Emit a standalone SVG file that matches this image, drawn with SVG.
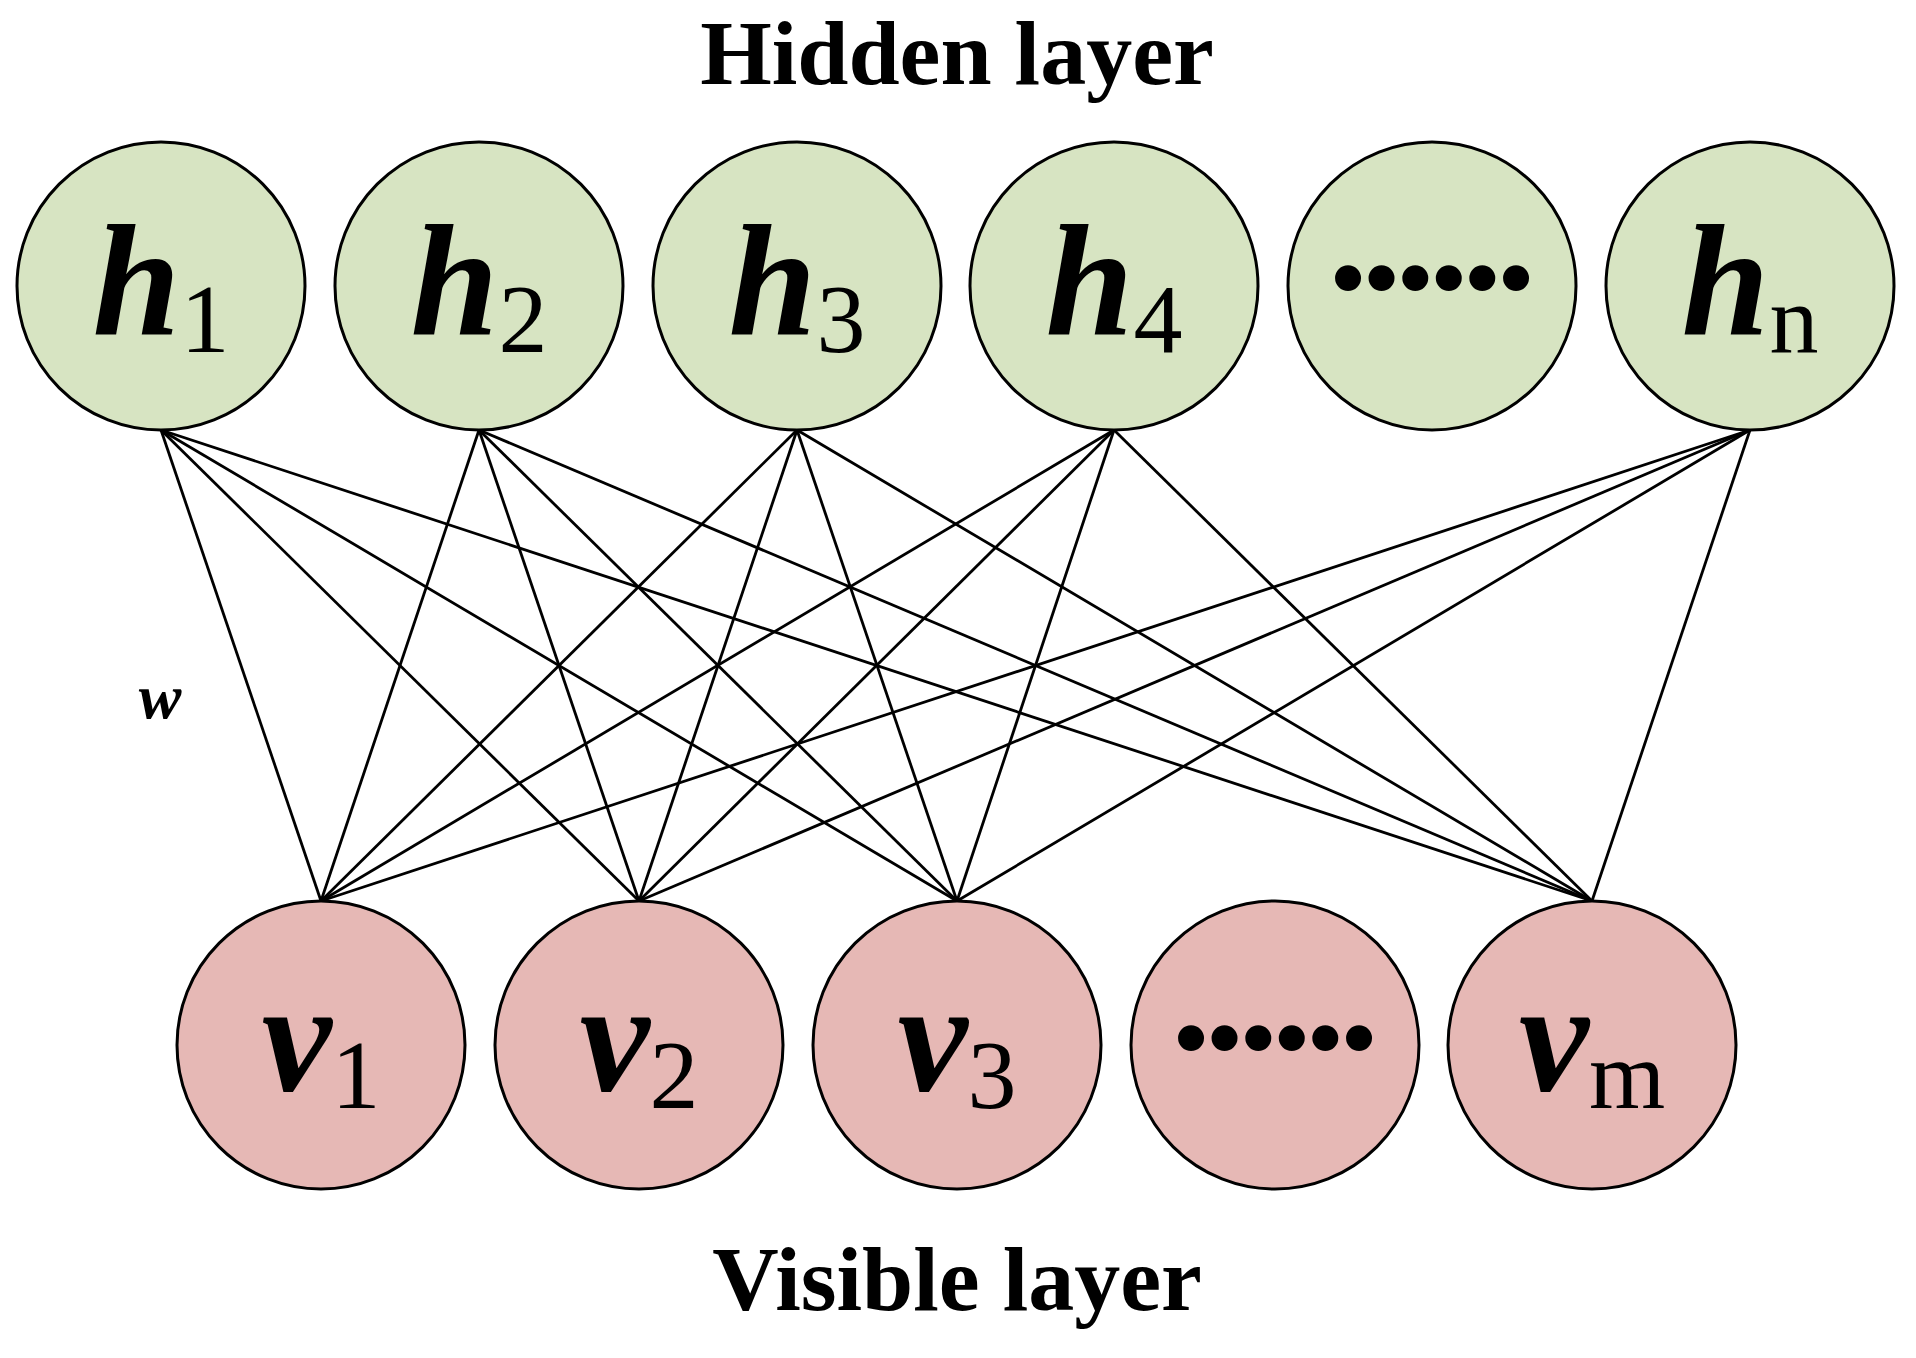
<svg xmlns="http://www.w3.org/2000/svg" width="1916" height="1358" viewBox="0 0 1916 1358">
<style>
.h{fill:#d7e4c2;stroke:#000;stroke-width:3}
.v{fill:#e6b8b5;stroke:#000;stroke-width:3}
.t{font-family:"Liberation Serif",serif;font-weight:bold;font-size:92px;text-anchor:middle}
.l{font-family:"Liberation Serif",serif;text-anchor:middle}
.m{font-style:italic;font-weight:bold;font-size:158px}
.s{font-size:98px}
#edges line{stroke:#000;stroke-width:2.8}
</style>
<rect width="1916" height="1358" fill="#fff"/>
<text class="t" x="957" y="84">Hidden layer</text>
<text class="t" x="957" y="1310">Visible layer</text>
<text x="160" y="718" font-family="Liberation Serif,serif" font-style="italic" font-weight="bold" font-size="64" text-anchor="middle">w</text>
<g id="edges">
<line x1="161" y1="430" x2="321" y2="901"/><line x1="161" y1="430" x2="639" y2="901"/><line x1="161" y1="430" x2="957" y2="901"/><line x1="161" y1="430" x2="1592" y2="901"/>
<line x1="479" y1="430" x2="321" y2="901"/><line x1="479" y1="430" x2="639" y2="901"/><line x1="479" y1="430" x2="957" y2="901"/><line x1="479" y1="430" x2="1592" y2="901"/>
<line x1="797" y1="430" x2="321" y2="901"/><line x1="797" y1="430" x2="639" y2="901"/><line x1="797" y1="430" x2="957" y2="901"/><line x1="797" y1="430" x2="1592" y2="901"/>
<line x1="1114" y1="430" x2="321" y2="901"/><line x1="1114" y1="430" x2="639" y2="901"/><line x1="1114" y1="430" x2="957" y2="901"/><line x1="1114" y1="430" x2="1592" y2="901"/>
<line x1="1750" y1="430" x2="321" y2="901"/><line x1="1750" y1="430" x2="639" y2="901"/><line x1="1750" y1="430" x2="957" y2="901"/><line x1="1750" y1="430" x2="1592" y2="901"/>
</g>
<g id="h1"><circle class="h" cx="161" cy="286" r="144"/><text class="l" x="161" y="334"><tspan class="m">h</tspan><tspan class="s" dy="18">1</tspan></text></g>
<g id="h2"><circle class="h" cx="479" cy="286" r="144"/><text class="l" x="479" y="334"><tspan class="m">h</tspan><tspan class="s" dy="18">2</tspan></text></g>
<g id="h3"><circle class="h" cx="797" cy="286" r="144"/><text class="l" x="797" y="334"><tspan class="m">h</tspan><tspan class="s" dy="18">3</tspan></text></g>
<g id="h4"><circle class="h" cx="1114" cy="286" r="144"/><text class="l" x="1114" y="334"><tspan class="m">h</tspan><tspan class="s" dy="18">4</tspan></text></g>
<g id="hdots"><circle class="h" cx="1432" cy="286" r="144"/><text class="l" x="1432" y="310" font-size="96" font-weight="bold">••••••</text></g>
<g id="hn"><circle class="h" cx="1750" cy="286" r="144"/><text class="l" x="1750" y="334"><tspan class="m">h</tspan><tspan class="s" dy="18">n</tspan></text></g>
<g id="v1"><circle class="v" cx="321" cy="1045" r="144"/><text class="l" x="321" y="1090"><tspan class="m">v</tspan><tspan class="s" dy="18">1</tspan></text></g>
<g id="v2"><circle class="v" cx="639" cy="1045" r="144"/><text class="l" x="639" y="1090"><tspan class="m">v</tspan><tspan class="s" dy="18">2</tspan></text></g>
<g id="v3"><circle class="v" cx="957" cy="1045" r="144"/><text class="l" x="957" y="1090"><tspan class="m">v</tspan><tspan class="s" dy="18">3</tspan></text></g>
<g id="vdots"><circle class="v" cx="1275" cy="1045" r="144"/><text class="l" x="1275" y="1070" font-size="96" font-weight="bold">••••••</text></g>
<g id="vm"><circle class="v" cx="1592" cy="1045" r="144"/><text class="l" x="1592" y="1090"><tspan class="m">v</tspan><tspan class="s" dy="18">m</tspan></text></g>
</svg>
